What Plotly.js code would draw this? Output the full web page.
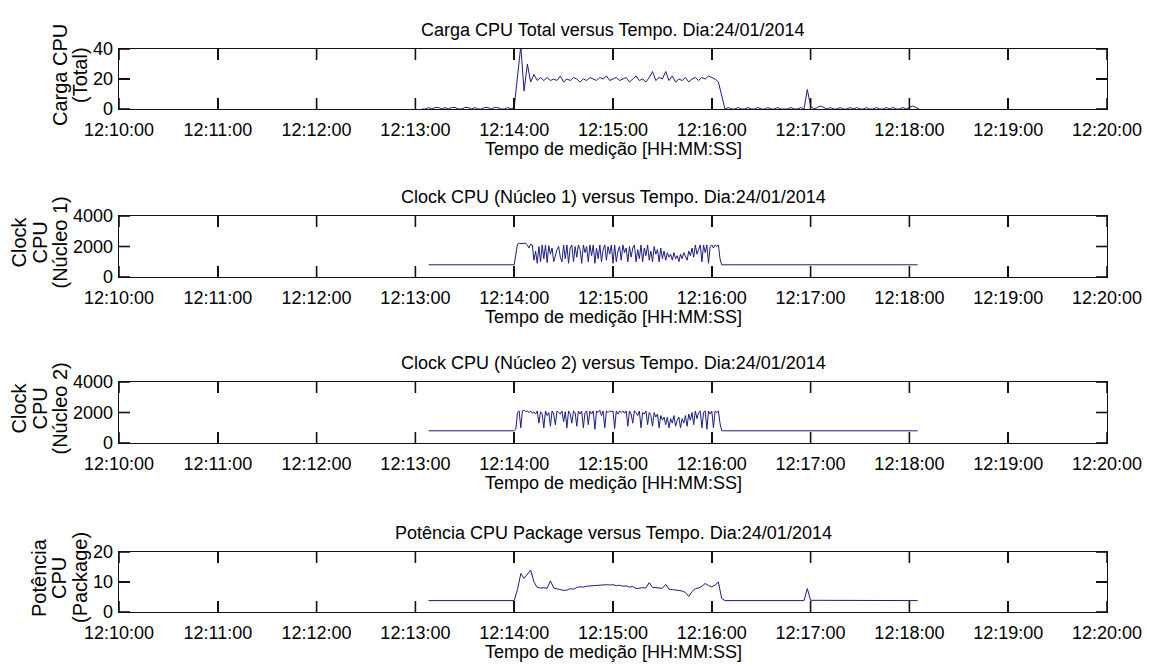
<!DOCTYPE html>
<html>
<head>
<meta charset="utf-8">
<script src="https://cdn.plot.ly/plotly-3.0.1.min.js"></script>
<style>
html,body{margin:0;padding:0;background:#fff;}
#chart{width:1149px;height:668px;}
</style>
</head>
<body>
<div id="chart"></div>
<script>
// ---------------- DATA ----------------
const DAY = '2014-01-24';
const xTickLabels = ['12:10:00','12:11:00','12:12:00','12:13:00','12:14:00','12:15:00','12:16:00','12:17:00','12:18:00','12:19:00','12:20:00'];

// Carga CPU Total, sampled every 2 s starting 12:13:04
const loadStart = '12:13:04';
const loadStep = 2;
const loadValues = [
  0,0,1,0,1,1,0,1,0,1,1,0,0,1,1,0,1,0,0,1,1,0,1,1,0,0,1,0,
  1,20,42,12,30,18,23,19,21,19,21,19,20,19,22,18,20,19,21,20,18,20,19,21,20,19,21,20,22,19,
  20,21,19,20,21,18,20,22,19,20,18,21,25,19,21,20,25,19,22,18,20,19,21,18,20,21,19,21,20,22,
  21,20,18,8,0,
  1,0,0,1,0,0,1,0,0,1,0,0,1,0,0,1,0,0,0,1,0,0,1,0,13,2,0,1,2,1,0,1,0,0,1,0,0,1,0,1,0,0,1,0,0,1,0,0,1,0,1,0,0,1,0,1,2,1,0
];

// Clock CPU cores: idle level outside the active window, 1 s samples inside it
const clockIdleTimes = ['12:13:08', '12:18:05'];
const clockIdleValue = [800, 800];
const clockActiveStart = '12:14:00';
const clockActiveStep = 1;
const core1Values = [
  800,1500,2150,2200,2200,2200,2200,2200,2100,1900,2150,2100,1100,1700,900,2000,1000,2100,1200,2100,
  950,2050,1500,1900,1000,1400,1800,2000,1300,1000,2100,1200,2100,900,1900,2100,1000,2000,1300,2100,
  1800,900,2100,1600,2000,1000,2100,1400,2100,900,1900,1200,2100,1000,1800,2100,1100,2000,1500,2100,
  900,2100,1000,1700,2000,1100,2100,1600,1900,1000,2000,1300,1900,2100,1000,1800,1200,2100,1000,1900,
  1400,2100,1100,1700,1000,2000,1500,1800,1000,1900,1200,1700,1100,1600,1300,1500,1100,1600,1200,1400,
  1000,1500,1200,1600,1300,1100,1700,1400,1900,1300,2100,1500,1800,2100,1000,2100,1600,2100,900,2000,
  2100,1900,2100,2000,2100,1200,800,800
];
const core2Values = [
  800,900,2000,2100,1000,2100,2150,2050,2100,2000,2100,1950,2050,1900,2100,1300,2050,1900,1000,2100,
  1800,2000,1100,2100,1900,1200,2100,2000,1900,2100,1400,2050,1000,2100,1900,1300,2100,2000,1100,2100,
  1900,2100,1000,2000,2100,1200,2100,1900,2100,900,2100,2000,2150,1800,2100,1000,2100,2000,2100,2050,
  2100,950,2100,1900,2100,2000,2100,1950,2100,1100,2100,1900,1300,2100,2000,1800,2100,1000,2000,1900,
  2100,1200,2000,1800,1100,2000,1700,1900,1000,1800,1500,1700,1200,1700,1000,1600,1300,1800,1100,1500,
  1700,1000,1600,1300,1800,1100,1900,1500,2000,1200,2100,1600,2000,2100,1000,2000,2100,900,2100,1900,
  2100,1000,2100,2000,2100,1300,800,800
];

// Potência CPU Package: idle points and 2 s samples in the active window
const powerIdleBeforeTimes = ['12:13:08'];
const powerIdleBeforeValues = [3.8];
const powerActiveStart = '12:14:00';
const powerActiveStep = 2;
const powerActiveValues = [
  3.8,7.5,12.8,11.2,12.5,14.0,10.0,8.2,8.0,8.1,7.9,10.4,8.0,7.8,7.4,7.2,7.3,7.8,7.6,8.2,
  8.4,8.3,8.6,8.7,8.8,8.7,9.0,8.9,9.1,9.0,9.1,8.8,8.9,8.6,8.7,8.3,8.5,7.8,8.0,8.1,
  8.0,9.8,8.2,8.1,8.2,7.9,9.2,7.6,7.5,7.3,7.2,7.0,6.5,5.2,6.8,7.8,8.0,8.6,9.5,8.8,
  8.4,9.0,10.0,4.5,3.8
];
const powerIdleAfterTimes = ['12:16:56','12:16:58','12:17:00','12:18:05'];
const powerIdleAfterValues = [3.8,7.8,3.9,3.8];

// ---------------- HELPERS ----------------
function toSec(hms){ const p = hms.split(':').map(Number); return p[0]*3600+p[1]*60+p[2]; }
function fmt(sec){
  const h = Math.floor(sec/3600), m = Math.floor((sec%3600)/60), s = sec - h*3600 - m*60;
  const z = n => String(n).padStart(2,'0');
  const ss = Number.isInteger(s) ? z(s) : (s < 10 ? '0' : '') + s.toFixed(3);
  return DAY + ' ' + z(h) + ':' + z(m) + ':' + ss;
}
function series(start, step, vals){ const s0 = toSec(start); return vals.map((_,i)=>fmt(s0+i*step)); }
const stamp = arr => arr.map(t => DAY + ' ' + t);

// ---------------- GEOMETRY ----------------
const W = 1149, H = 668;
const plotL = 119, plotR = 1107;
const panels = [
  {top:49, bottom:109},
  {top:216, bottom:277},
  {top:382, bottom:443},
  {top:552, bottom:612}
];
const px = x => x / W;
const py = y => 1 - y / H;
const TICKLEN = 11;

const lineColor = '#1c1c82';
const axisColor = '#111111';
const tickFont = {family:'Liberation Sans, Arial, sans-serif', size:18, color:'#000'};
const textFont = {family:'Liberation Sans, Arial, sans-serif', size:18, color:'#000'};
const ylabFont = {family:'Liberation Sans, Arial, sans-serif', size:20, color:'#000'};

const dataTraces = [
  {x: series(loadStart, loadStep, loadValues), y: loadValues, xaxis:'x', yaxis:'y'},
  {x: [stamp(clockIdleTimes)[0]].concat(series(clockActiveStart, clockActiveStep, core1Values), [stamp(clockIdleTimes)[1]]),
   y: [clockIdleValue[0]].concat(core1Values, [clockIdleValue[1]]), xaxis:'x2', yaxis:'y2'},
  {x: [stamp(clockIdleTimes)[0]].concat(series(clockActiveStart, clockActiveStep, core2Values), [stamp(clockIdleTimes)[1]]),
   y: [clockIdleValue[0]].concat(core2Values, [clockIdleValue[1]]), xaxis:'x3', yaxis:'y3'},
  {x: stamp(powerIdleBeforeTimes).concat(series(powerActiveStart, powerActiveStep, powerActiveValues), stamp(powerIdleAfterTimes)),
   y: powerIdleBeforeValues.concat(powerActiveValues, powerIdleAfterValues), xaxis:'x4', yaxis:'y4'}
].map(t => Object.assign(t, {type:'scatter', mode:'lines', line:{color:lineColor, width:1}, showlegend:false, hoverinfo:'skip'}));

const yRanges = [[0,40],[0,4000],[0,4000],[0,20]];
const yTicks = [[0,20,40],[0,2000,4000],[0,2000,4000],[0,10,20]];
const titles = [
  'Carga CPU Total versus Tempo. Dia:24/01/2014',
  'Clock CPU (Núcleo 1) versus Tempo. Dia:24/01/2014',
  'Clock CPU (Núcleo 2) versus Tempo. Dia:24/01/2014',
  'Potência CPU Package versus Tempo. Dia:24/01/2014'
];
const xTitle = 'Tempo de medição [HH:MM:SS]';
const yLabels = [
  [['Carga CPU',60],['(Total)',80]],
  [['Clock',18],['CPU',39],['(Núcleo 1)',59]],
  [['Clock',18],['CPU',39],['(Núcleo 2)',59]],
  [['Potência',39],['CPU',59],['(Package)',80]]
];

const axisCommon = {
  showline:true, mirror:'ticks', linecolor:axisColor, linewidth:1.3,
  ticks:'inside', ticklen:TICKLEN, tickwidth:1.6, tickcolor:axisColor,
  showgrid:false, zeroline:false, fixedrange:true, tickfont:tickFont
};

const layout = {
  width:W, height:H, autosize:false,
  margin:{l:0,r:0,t:0,b:0,pad:0},
  paper_bgcolor:'#fff', plot_bgcolor:'#fff',
  showlegend:false,
  annotations:[]
};

const tickTraces = [];
const cx = (plotL + plotR) / 2;
const xr0 = toSec(xTickLabels[0]), xr1 = toSec(xTickLabels[xTickLabels.length-1]);
panels.forEach((p, i) => {
  const n = i === 0 ? '' : String(i+1);
  const ph = p.bottom - p.top, pw = plotR - plotL;
  layout['xaxis'+n] = Object.assign({}, axisCommon, {
    type:'date', anchor:'y'+n,
    domain:[px(plotL), px(plotR)],
    range:[fmt(xr0), fmt(xr1)],
    tickmode:'array', tickvals: stamp(xTickLabels), ticktext: xTickLabels,
    ticklabelstandoff: 4
  });
  layout['yaxis'+n] = Object.assign({}, axisCommon, {
    anchor:'x'+n,
    domain:[py(p.bottom), py(p.top)],
    range: yRanges[i], tickmode:'array', tickvals: yTicks[i], ticktext: yTicks[i].map(String),
    ticklabelstandoff: 1
  });

  // MATLAB-style inside tick marks on all four sides, expressed in axis units
  const [y0, y1] = yRanges[i];
  const dy = (y1 - y0) * TICKLEN / ph;
  const dxs = (xr1 - xr0) * TICKLEN / pw;
  const tx = [], ty = [];
  xTickLabels.forEach(t => {
    const v = fmt(toSec(t));
    tx.push(v, v, null, v, v, null);
    ty.push(y0, y0 + dy, null, y1, y1 - dy, null);
  });
  yTicks[i].forEach(v => {
    tx.push(fmt(xr0), fmt(xr0 + dxs), null, fmt(xr1), fmt(xr1 - dxs), null);
    ty.push(v, v, null, v, v, null);
  });
  tickTraces.push({type:'scatter', mode:'lines', x:tx, y:ty, xaxis:'x'+n, yaxis:'y'+n,
    line:{color:axisColor, width:1.6}, connectgaps:false, showlegend:false, hoverinfo:'skip'});

  layout.annotations.push({
    text: titles[i], xref:'paper', yref:'paper', x: px(cx), y: py(p.top - 19),
    xanchor:'center', yanchor:'middle', showarrow:false, font:textFont
  });
  layout.annotations.push({
    text: xTitle, xref:'paper', yref:'paper', x: px(cx), y: py(p.bottom + 40),
    xanchor:'center', yanchor:'middle', showarrow:false, font:textFont
  });
  const midY = (p.top + p.bottom) / 2 - 4;
  yLabels[i].forEach(([txt, xc]) => {
    layout.annotations.push({
      text: txt, xref:'paper', yref:'paper', x: px(xc), y: py(midY),
      xanchor:'center', yanchor:'middle', textangle:-90, showarrow:false, font:ylabFont
    });
  });
});

Plotly.newPlot('chart', tickTraces.concat(dataTraces), layout, {staticPlot:true, displayModeBar:false});
</script>
</body>
</html>
